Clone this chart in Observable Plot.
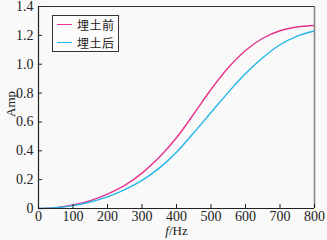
<!DOCTYPE html>
<html>
<head>
<meta charset="utf-8">
<script src="https://cdn.jsdelivr.net/npm/d3@7"></script>
<script src="https://cdn.jsdelivr.net/npm/@observablehq/plot@0.6"></script>
<style>
  html, body { margin: 0; padding: 0; background: #f9f9f9; }
  #wrap { position: relative; width: 327px; height: 240px; font-family: "Liberation Serif", "DejaVu Serif", serif; }
  #wrap svg, #wrap svg text, #wrap svg g { font-family: "Liberation Serif", "DejaVu Serif", serif !important; }
  #legend { position: absolute; left: 52px; top: 15px; width: 67px; height: 37px; border: 1px solid #333; background: #fbfbfb; box-sizing: border-box; }
  .item { position: absolute; left: 0; width: 64px; height: 15px; font-family: "Noto Sans CJK SC", sans-serif; font-size: 12px; line-height: 15px; color: #222; }
  .sw { position: absolute; left: 4px; top: 7.5px; width: 15px; height: 0; border-top: 1.6px solid; }
  .lab { position: absolute; display: block; left: 24px; top: 0; height: 15px; width: 40px; overflow: visible; white-space: nowrap; line-height: 15px; letter-spacing: 0.5px; }
  #xlabel { position: absolute; left: 0; width: 327px; top: 224px; height: 14px; line-height: 14px; text-align: center; padding-left: 26px; box-sizing: border-box; font-size: 13px; color: #222; font-family: "Liberation Serif", "DejaVu Serif", serif; }
  #ylabel { position: absolute; left: 11px; top: 104px; font-size: 13px; line-height: 14px; color: #222; transform: translate(-50%, -50%) rotate(-90deg); white-space: nowrap; font-family: "Liberation Serif", "DejaVu Serif", serif; }
</style>
</head>
<body>
<div id="wrap"></div>
<script>
const freq = [0, 50, 100, 150, 200, 250, 300, 350, 400, 450, 500, 550, 600, 650, 700, 750, 800];
const before = [0, 0.006, 0.024, 0.055, 0.10, 0.16, 0.245, 0.355, 0.49, 0.655, 0.825, 0.975, 1.095, 1.18, 1.232, 1.258, 1.268];
const after = [0, 0.005, 0.02, 0.045, 0.08, 0.13, 0.195, 0.28, 0.39, 0.525, 0.665, 0.805, 0.935, 1.045, 1.135, 1.195, 1.23];
const seriesNames = ["埋土前", "埋土后"];
const seriesColors = ["#e8338c", "#22b6e8"];
const xTicks = [0, 100, 200, 300, 400, 500, 600, 700, 800];
const yTicks = [0, 0.2, 0.4, 0.6, 0.8, 1.0, 1.2, 1.4];
const yTickLabels = ["0", "0.2", "0.4", "0.6", "0.8", "1.0", "1.2", "1.4"];

const data = [];
freq.forEach((f, i) => {
  data.push({f, amp: before[i], s: seriesNames[0]});
  data.push({f, amp: after[i], s: seriesNames[1]});
});

const serif = "'Liberation Serif', 'DejaVu Serif', serif";

const chart = Plot.plot({
  width: 327,
  height: 240,
  marginLeft: 38,
  marginRight: 13,
  marginTop: 6,
  marginBottom: 32,
  style: {background: "#f9f9f9", fontFamily: serif, fontSize: "14px", color: "#222"},
  x: {domain: [0, 800]},
  y: {domain: [0, 1.4]},
  color: {domain: seriesNames, range: seriesColors},
  marks: [
    Plot.line(data, {x: "f", y: "amp", z: "s", stroke: "s", strokeWidth: 1.4, curve: "monotone-x"}),
    Plot.ruleX([800], {stroke: "#888", strokeWidth: 1.6}),
    Plot.ruleY([1.4], {stroke: "#333", strokeWidth: 1}),
    Plot.ruleX([0], {stroke: "#222", strokeWidth: 1.2}),
    Plot.ruleY([0], {stroke: "#222", strokeWidth: 1.2}),
    Plot.axisY(yTicks, {tickSize: -4, tickPadding: 9, tickFormat: (d) => yTickLabels[yTicks.indexOf(d)], label: null, fontSize: 14, fontFamily: serif}),
    Plot.axisX(xTicks, {tickSize: -4, tickPadding: 7, label: null, fontSize: 14, fontFamily: serif})
  ]
});

const wrap = document.getElementById("wrap");
wrap.appendChild(chart);

const legend = document.createElement("div");
legend.id = "legend";
seriesNames.forEach((name, i) => {
  const it = document.createElement("div");
  it.className = "item";
  it.style.top = (i === 0 ? 0.5 : 18.5) + "px";
  it.innerHTML = `<span class="sw" style="border-color:${seriesColors[i]}"></span><span class="lab">${name}</span>`;
  legend.appendChild(it);
});
wrap.appendChild(legend);

const xl = document.createElement("div");
xl.id = "xlabel";
xl.innerHTML = "<i>f</i>/Hz";
wrap.appendChild(xl);

const yl = document.createElement("div");
yl.id = "ylabel";
yl.textContent = "Amp";
wrap.appendChild(yl);
</script>
</body>
</html>
